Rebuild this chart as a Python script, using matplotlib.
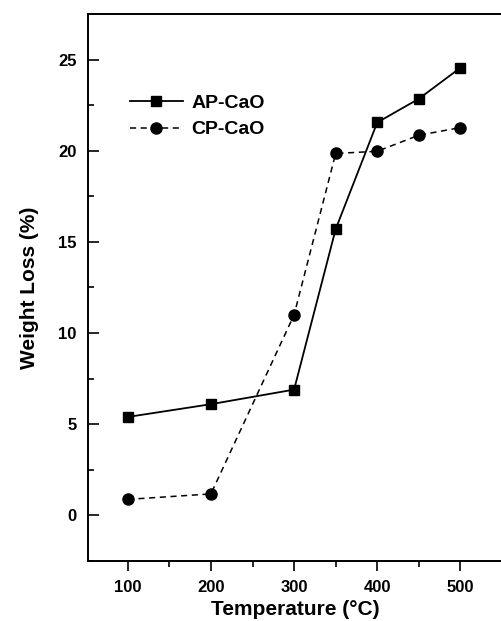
import matplotlib
matplotlib.use("Agg")
import matplotlib.pyplot as plt
from matplotlib.ticker import MultipleLocator

plt.rcParams['font.family'] = ['Liberation Sans', 'DejaVu Sans']
plt.rcParams['font.weight'] = 'bold'

temps = [100, 200, 300, 350, 400, 450, 500]
ap_cao = [5.4, 6.1, 6.9, 15.7, 21.55, 22.85, 24.55]
cp_cao = [0.88, 1.18, 11.0, 19.85, 19.97, 20.85, 21.27]

fig = plt.figure(figsize=(5.02, 6.21), dpi=100)
ax = fig.add_axes([0.175, 0.0966, 0.825, 0.8809])

ax.plot(temps, ap_cao, color='black', lw=1.3, marker='s', ms=7.5,
        label='AP-CaO')
ax.plot(temps, cp_cao, color='black', lw=1.1, ls=(0, (4, 3)), marker='o',
        ms=8, label='CP-CaO')

ax.set_xlim(52, 550)
ax.set_ylim(-2.5, 27.5)
ax.xaxis.set_major_locator(MultipleLocator(100))
ax.xaxis.set_minor_locator(MultipleLocator(50))
ax.yaxis.set_major_locator(MultipleLocator(5))
ax.yaxis.set_minor_locator(MultipleLocator(2.5))
ax.tick_params(axis='x', which='major', direction='out', length=7, width=1.2,
               labelsize=12, pad=7)
ax.tick_params(axis='x', which='minor', direction='out', length=4, width=1.2)
ax.tick_params(axis='y', which='major', direction='in', length=8, width=1.2,
               labelsize=12, pad=8)
ax.tick_params(axis='y', which='minor', direction='in', length=4, width=1.2)
for lbl in ax.get_xticklabels() + ax.get_yticklabels():
    lbl.set_fontweight('bold')

for s in ['left', 'top', 'bottom']:
    ax.spines[s].set_linewidth(1.4)
ax.spines['right'].set_visible(False)

ax.set_xlabel('Temperature (°C)', fontsize=15, fontweight='bold', labelpad=3)
ax.set_ylabel('Weight Loss (%)', fontsize=15, fontweight='bold', labelpad=14)

ax.legend(loc='upper left', bbox_to_anchor=(0.06, 0.885), frameon=False,
          handlelength=2.7, handletextpad=0.45, labelspacing=0.45,
          prop={'weight': 'bold', 'size': 14})

fig.savefig('out.png', dpi=100)
